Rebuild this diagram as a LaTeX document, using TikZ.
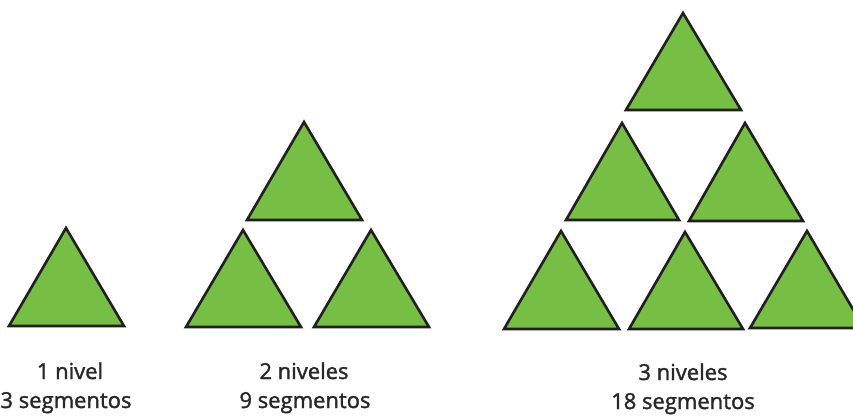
\documentclass[tikz,border=0pt]{standalone}
\usepackage{fontspec}
\setmainfont{Open Sans}
\newfontfamily\lblfont{Open Sans}[FakeBold=1.6]
\definecolor{leaf}{RGB}{118,190,68}
\definecolor{ink}{RGB}{35,31,32}
\definecolor{txt}{RGB}{40,40,40}
\newcommand\gtri[5]{\draw[tri] (#1,#2) -- (#5,#3) -- (#4,#3) -- cycle;}
\begin{document}
\begin{tikzpicture}[x=1pt,y=-1pt,
  tri/.style={fill=leaf,draw=ink,line width=2.6pt,line join=miter},
  lbl/.style={text=txt,font=\lblfont\fontsize{22}{29}\selectfont,align=center,anchor=base,inner sep=0pt}]
\useasboundingbox (0,0) rectangle (853,417);
% level 1
\gtri{66}{228}{326}{9}{124}
% level 2
\gtri{304}{122}{220}{247}{362}
\gtri{243}{230}{327}{186}{301}
\gtri{371}{230}{327}{314}{429}
% level 3
\gtri{683}{13}{110}{626}{741}
\gtri{622}{123}{220}{566}{679}
\gtri{745}{123}{221}{689}{803}
\gtri{561}{231}{329}{504}{619}
\gtri{685}{232}{329}{629}{743}
\gtri{807}{231}{328}{750}{864}
% labels
\node[lbl] (l1a) at (70,379) {1 nivel};
\node[lbl] (l1b) at (66,408) {3 segmentos};
\node[lbl] (l2a) at (304,379) {2 niveles};
\node[lbl] (l2b) at (305,408) {9 segmentos};
\node[lbl] (l3a) at (683,380) {3 niveles};
\node[lbl] (l3b) at (683,409) {18 segmentos};
\end{tikzpicture}
\end{document}
